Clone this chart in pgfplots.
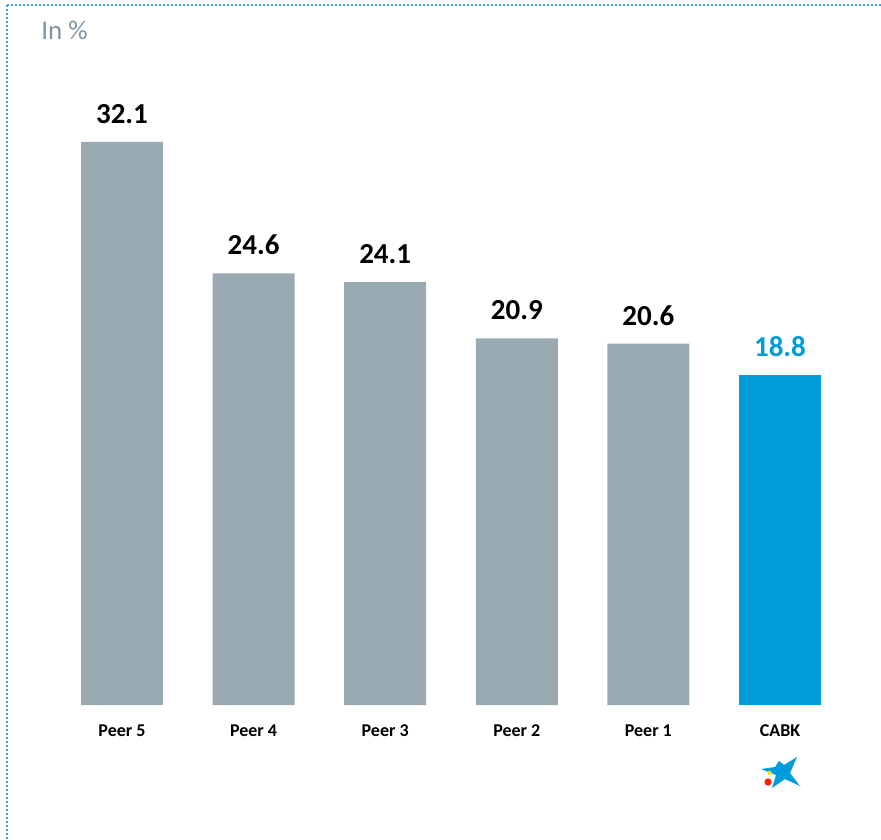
\documentclass[border=0pt]{standalone}
\usepackage{pgfplots}
\pgfplotsset{compat=1.18}
\usepackage{fontspec}
\setmainfont{Carlito}
\definecolor{barGray}{RGB}{154,170,178}
\definecolor{cabkBlue}{RGB}{0,157,220}
\definecolor{frameBlue}{RGB}{50,168,222}
\definecolor{noteGray}{RGB}{125,148,163}
\begin{document}
\begin{tikzpicture}
\begin{scope}[x=0.5pt,y=-0.5pt]
% canvas in pixel units, origin at the top-left corner
\path[use as bounding box] (0,0) rectangle (881,839);
% dotted frame on the top and left edges
\draw[frameBlue, line width=1.2pt, dash pattern=on 1.1pt off 0.9pt] (7,5) -- (881,5);
\draw[frameBlue, line width=1.2pt, dash pattern=on 1.1pt off 0.9pt] (7,5) -- (7,839);
\node[anchor=west, font=\fontsize{13.5}{15}\selectfont, text=noteGray, inner sep=0pt] at (41,30) {In \%};
% CaixaBank star logo under the CABK label
\fill[cabkBlue] (761,769) -- (775,767) -- (779,761) -- (784,765) -- (797,757)
  -- (790,773) -- (800,786) -- (785,779) -- (772,788) -- (776,775) -- cycle;
\fill[yellow!85!orange] (769.5,773) circle (2.2);
\fill[red!75!orange] (768,782) circle (3.6);
\end{scope}
\begin{axis}[
  at={(28.1pt,-352.5pt)}, anchor=south west,
  scale only axis,
  width=394.8pt, height=307pt,
  xmin=-0.5, xmax=5.5, ymin=0, ymax=35,
  axis line style={draw=none},
  ytick=\empty,
  xtick={0,1,2,3,4,5},
  xticklabels={Peer 5,Peer 4,Peer 3,Peer 2,Peer 1,CABK},
  major tick length=0pt,
  xticklabel style={font=\fontsize{9}{10}\selectfont\bfseries, anchor=base, yshift=-15.5pt, inner sep=0pt},
  ybar, bar width=0.623, bar shift=0pt,
  /pgf/number format/assume math mode=true,
  nodes near coords={\pgfmathprintnumber[fixed,precision=1,fixed zerofill,assume math mode=true]{\pgfplotspointmeta}},
  nodes near coords style={font=\fontsize{14.5}{16}\selectfont\bfseries, anchor=south, inner sep=0pt, yshift=9pt},
  clip=false,
]
\addplot[fill=barGray, draw=none, nodes near coords style={text=black}]
  coordinates {(0,32.1) (1,24.6) (2,24.1) (3,20.9) (4,20.6)};
\addplot[fill=cabkBlue, draw=none, nodes near coords style={text=cabkBlue}]
  coordinates {(5,18.8)};
\end{axis}
\end{tikzpicture}
\end{document}
